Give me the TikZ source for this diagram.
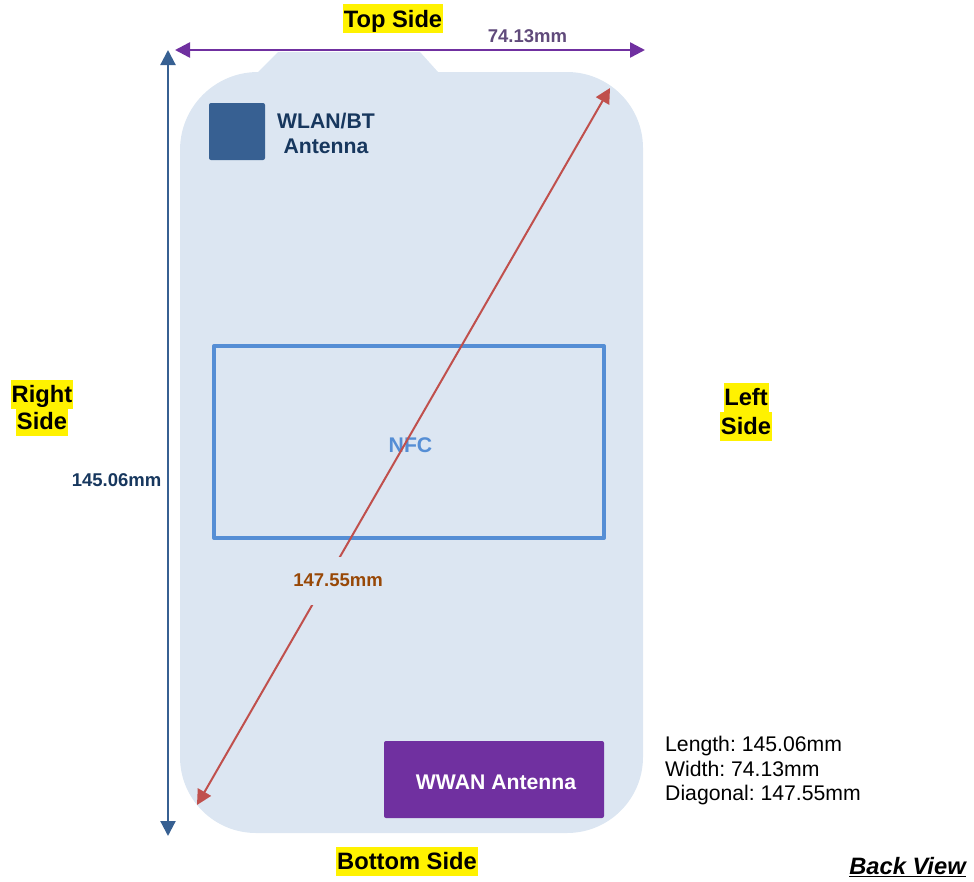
\documentclass[tikz,border=0pt]{standalone}
\usepackage{fontspec}
\setmainfont{Liberation Sans}
\usetikzlibrary{arrows.meta}
\definecolor{bodyc}{HTML}{DCE6F2}
\definecolor{darkblue}{HTML}{17375E}
\definecolor{steel}{HTML}{376092}
\definecolor{nfcblue}{HTML}{558ED5}
\definecolor{purp}{HTML}{7030A0}
\definecolor{purptext}{HTML}{604A7B}
\definecolor{redl}{HTML}{C0504D}
\definecolor{brownt}{HTML}{984807}
\tikzset{
  x=1bp,y=-1bp,
  hl/.style={fill=yellow,inner sep=0pt,minimum height=29bp,font=\fontsize{23.7bp}{26bp}\selectfont\bfseries,text=black,text depth=0pt},
  both/.style={line width=#1,{Triangle[length=15bp,width=15bp]}-{Triangle[length=15bp,width=15bp]}},
  antlabel/.style={font=\fontsize{21.2bp}{25bp}\selectfont\bfseries,align=center,inner sep=0pt},
  dimlabel/.style={font=\fontsize{18.5bp}{21bp}\selectfont\bfseries,inner sep=0pt},
}
\begin{document}
\frenchspacing
\begin{tikzpicture}
\useasboundingbox (0,0) rectangle (974,882);
% body
\fill[bodyc] (180,150) arc[start angle=180,end angle=270,radius=78] -- (278,52) -- (420,52) -- (438,72)
  -- (567,72) arc[start angle=270,end angle=360,radius=76] -- (643,757)
  arc[start angle=0,end angle=90,radius=76] -- (256,833)
  arc[start angle=90,end angle=180,radius=76] -- cycle;
% antennas
\node[fill=steel,rounded corners=2bp,minimum width=56bp,minimum height=57bp,inner sep=0pt] (wlan) at (237,131.5) {};
\node[antlabel,text=darkblue] (wlant) at (326,133) {WLAN/BT\\Antenna};
\node[draw=nfcblue,line width=4bp,line join=round,minimum width=390bp,minimum height=192bp,inner sep=0pt] (nfc) at (409,442) {};
\node[antlabel,text=nfcblue] (nfct) at (410.5,445.5) {NFC};
\node[fill=purp,rounded corners=2bp,minimum width=220bp,minimum height=77bp,inner sep=0pt] (wwan) at (494,779.5) {};
\node[antlabel,text=white] (wwant) at (496,782.5) {WWAN Antenna};
% dimension arrows
\coordinate (tl) at (175,50);
\coordinate (tr) at (645,50);
\coordinate (vt) at (168,50);
\coordinate (vb) at (168,836);
\coordinate (dt) at (610,88);
\coordinate (db) at (197,805);
\draw[both=2.2bp,color=steel] (vt) -- (vb);
\draw[both=2bp,color=redl] (db) -- (dt);
\draw[both=2.5bp,color=purp] (tl) -- (tr);
\node[dimlabel,fill=bodyc,minimum width=92bp,minimum height=48bp,text=brownt] (diag) at (338,580.5) {147.55mm};
\node[dimlabel,text=purptext] (wid) at (527.5,36) {74.13mm};
\node[dimlabel,text=darkblue] (len) at (116.5,480) {145.06mm};
% side labels
\node[hl,minimum width=100bp] (top) at (393,18.5) {Top Side};
\node[hl,minimum width=142bp] (bottom) at (407,861) {Bottom Side};
\node[hl,minimum width=62bp] (r1) at (42,394) {Right};
\node[hl,minimum width=52bp] (r2) at (42,421) {Side};
\node[hl,minimum width=45bp] (l1) at (746,397) {Left};
\node[hl,minimum width=52bp] (l2) at (746,426) {Side};
% notes
\node[anchor=north west,inner sep=0pt,align=left,font=\fontsize{21.2bp}{24.5bp}\selectfont] (note) at (665,736) {Length: 145.06mm\\Width: 74.13mm\\Diagonal: 147.55mm};
\node[inner sep=0pt,font=\fontsize{23.7bp}{26bp}\selectfont\bfseries\itshape] (back) at (907.5,867) {\underline{Back View}};
\end{tikzpicture}
\end{document}
